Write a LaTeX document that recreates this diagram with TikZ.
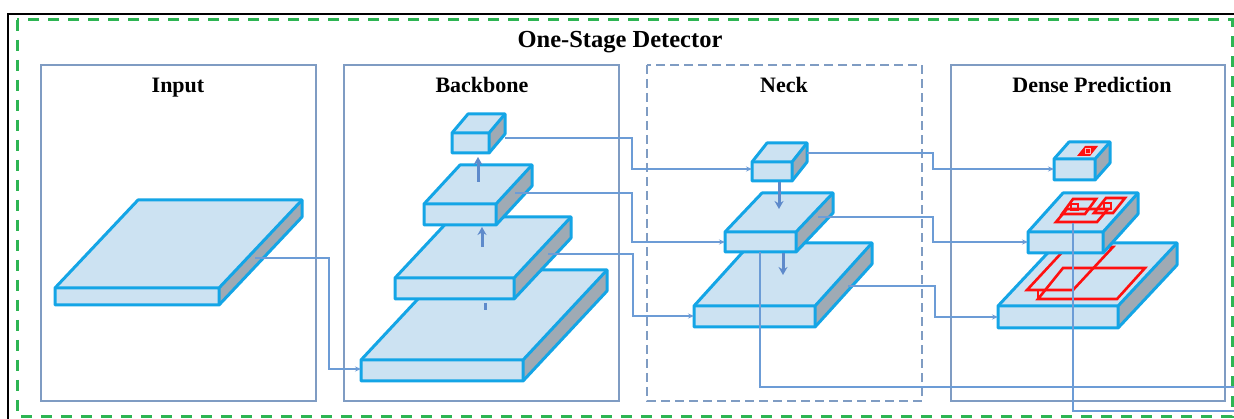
\documentclass[tikz,border=0pt]{standalone}
\usepackage{fontspec}
\setmainfont{Liberation Serif}
\usetikzlibrary{arrows.meta,calc}
\definecolor{slabfillc}{HTML}{CCE2F2}
\definecolor{slabedgec}{HTML}{14A5E6}
\definecolor{slabsidec}{HTML}{9FAAB4}
\definecolor{panelc}{HTML}{7F9CC3}
\definecolor{connc}{HTML}{6C9CD6}
\definecolor{arrc}{HTML}{5E8ACB}
\definecolor{grnc}{HTML}{2DB553}
\definecolor{redc}{HTML}{FF1010}
\tikzset{
  slabline/.style={draw=slabedgec, line width=3pt, line join=round},
  panelbox/.style={draw=panelc, line width=1.8pt},
  conn/.style={draw=connc, line width=1.5pt},
  connarr/.style={conn, -{Stealth[length=6pt,width=5pt]}},
  uparr/.style={draw=arrc, line width=3pt, -{Stealth[length=8pt,width=9pt]}},
  redbox/.style={draw=redc, line width=2.6pt, line join=miter},
  lbl/.style={font=\fontsize{22}{22}\selectfont\bfseries, anchor=base, inner sep=0pt},
  ttl/.style={font=\fontsize{24.5}{24.5}\selectfont\bfseries, anchor=base, inner sep=0pt}
}
\newcommand\slab[6]{%
  \fill[slabfillc] (#1,#2) rectangle (#3,#4);
  \fill[slabfillc] (#1,#2) -- (#3,#2) -- ++(#5,-#6) -- ($(#1,#2)+(#5,-#6)$) -- cycle;
  \fill[slabsidec] (#3,#2) -- ++(#5,-#6) -- ($(#3,#4)+(#5,-#6)$) -- (#3,#4) -- cycle;
  \draw[slabline] (#1,#4) -- (#1,#2) -- ($(#1,#2)+(#5,-#6)$) -- ($(#3,#2)+(#5,-#6)$) -- ($(#3,#4)+(#5,-#6)$) -- (#3,#4) -- cycle;
  \draw[slabline] (#1,#2) -- (#3,#2) -- ++(#5,-#6) (#3,#2) -- (#3,#4);
}
\begin{document}
\begin{tikzpicture}[x=1pt,y=-1pt]
\path[use as bounding box, clip] (0,0) rectangle (1234,419);
\fill[white] (0,0) rectangle (1234,419);
% outer frames
\draw[black, line width=2.6pt] (8,14) rectangle (1260,440);
\draw[grnc, line width=3pt, dash pattern=on 11pt off 9pt] (17,20) rectangle (1232,416);
\node[ttl] (title) at (620,48) {One-Stage Detector};
% panels
\draw[panelbox] (41,65) rectangle (316,401);
\draw[panelbox] (344,65) rectangle (619,401);
\draw[panelbox, dash pattern=on 9pt off 5pt] (647,65) rectangle (922,401);
\draw[panelbox] (951,65) rectangle (1225,401);
\node[lbl] (linput) at (178,93) {Input};
\node[lbl] (lback) at (482,93) {Backbone};
\node[lbl] (lneck) at (784,93) {Neck};
\node[lbl] (ldense) at (1092,93) {Dense Prediction};
% input
\slab{55}{288}{219}{305}{83}{88}
% backbone
\slab{361}{360}{523}{381}{84}{90}
\slab{395}{278}{514}{299}{57}{61}
\slab{424}{204}{496}{225}{36}{39}
\slab{452}{133}{489}{153}{16}{19}
% neck
\slab{694}{306}{815}{327}{57}{63}
\slab{725}{232}{796}{252}{37}{39}
\slab{752}{162}{792}{181}{15}{19}
% dense prediction
\slab{998}{306}{1118}{328}{59}{63}
\draw[redbox] (1038,299) -- (1117,299) -- (1145,268) -- (1063,268) -- cycle;
\draw[redbox] (1027,290) -- (1073,290) -- (1113,247) -- (1067,247) -- cycle;
\draw[redbox] (1038,290) -- (1038,299);
\slab{1028}{232}{1103}{253}{35}{39}
\draw[redbox] (1056,222) -- (1097,222) -- (1108,209) -- (1067,209) -- cycle;
\draw[redbox] (1062,214) -- (1085,214) -- (1096,199) -- (1073,199) -- cycle;
\draw[redbox] (1094,213) -- (1113,213) -- (1125,198) -- (1106,198) -- cycle;
\draw[redc, line width=1.6pt] (1071,210) rectangle (1078,204);
\draw[redc, line width=1.6pt] (1104,209) rectangle (1111,203);
\slab{1054}{159}{1095}{180}{15}{17}
\fill[redc] (1077,156) -- (1090,156) -- (1098,146) -- (1085,146) -- cycle;
\draw[white!70!redc, line width=1pt] (1085,153.5) rectangle (1090,149);
% connector coordinates
\coordinate (in-o) at (255,258);
\coordinate (bb1-i) at (361,369);
\coordinate (bb2-o) at (548,254);
\coordinate (bb3-o) at (515,193);
\coordinate (bb4-o) at (505,138);
\coordinate (nk1-i) at (694,316);
\coordinate (nk2-i) at (725,242);
\coordinate (nk3-i) at (752,169);
\coordinate (nk1-o) at (848,286);
\coordinate (nk2-o) at (818,217);
\coordinate (nk3-o) at (807,153);
\coordinate (nk2-b) at (760,252);
\coordinate (dp1-i) at (998,317);
\coordinate (dp2-i) at (1028,242);
\coordinate (dp3-i) at (1054,169);
\coordinate (dp2-t) at (1073,223);
\coordinate (out1) at (1240,387);
\coordinate (out2) at (1240,411);
% connectors
\draw[connarr] (in-o) -- (329,258) -- (329,369) -- (bb1-i);
\draw[connarr] (bb4-o) -- (632,138) -- (632,169) -- (nk3-i);
\draw[connarr] (bb3-o) -- (632,193) -- (632,242) -- (nk2-i);
\draw[connarr] (bb2-o) -- (633,254) -- (633,316) -- (nk1-i);
\draw[connarr] (nk3-o) -- (933,153) -- (933,169) -- (dp3-i);
\draw[connarr] (nk2-o) -- (933,217) -- (933,242) -- (dp2-i);
\draw[connarr] (nk1-o) -- (935,286) -- (935,317) -- (dp1-i);
\draw[conn] (nk2-b) -- (760,387) -- (out1);
\draw[conn] (dp2-t) -- (1073,411) -- (out2);
% vertical arrows
\coordinate (a1s) at (478,182); \coordinate (a1e) at (478,157);
\coordinate (a2s) at (482,247); \coordinate (a2e) at (482,227);
\coordinate (a3s) at (485,303); \coordinate (a3e) at (485,310);
\coordinate (a4s) at (779,182); \coordinate (a4e) at (779,209);
\coordinate (a5s) at (783,253); \coordinate (a5e) at (783,275);
\draw[uparr] (a1s) -- (a1e);
\draw[uparr] (a2s) -- (a2e);
\draw[draw=arrc, line width=3pt] (a3s) -- (a3e);
\draw[uparr] (a4s) -- (a4e);
\draw[uparr] (a5s) -- (a5e);
\end{tikzpicture}
\end{document}
